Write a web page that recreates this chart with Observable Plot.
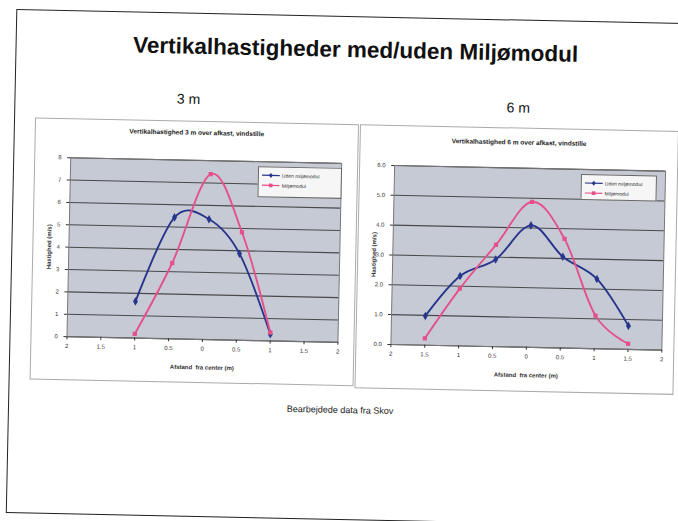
<!DOCTYPE html>
<html><head><meta charset="utf-8">
<script src="https://cdn.jsdelivr.net/npm/d3@7"></script>
<script src="https://cdn.jsdelivr.net/npm/@observablehq/plot@0.6"></script>
<style>
body{margin:0;background:#fff;width:678px;height:521px;overflow:hidden;font-family:"Liberation Sans",Arial,sans-serif;}
#slide{position:absolute;left:0;top:0;width:678px;height:521px;transform:rotate(1.2deg);transform-origin:346px 267px;}
#border{position:absolute;left:11px;top:16px;width:690px;height:502px;border:1.5px solid #222;}
.abs{position:absolute;white-space:nowrap;}
#title{left:351px;top:37px;transform:translateX(-50%);font-size:22.5px;font-weight:bold;color:#111;}
.sub{font-size:14px;color:#111;transform:translateX(-50%);}
#caption{left:343px;top:405px;transform:translateX(-50%);font-size:9px;color:#222;}
.chart{position:absolute;border:1px solid #aaa;background:#fff;}
.ctitle{position:absolute;left:0;right:0;text-align:center;font-size:6.5px;font-weight:bold;color:#222;}
.legend{position:absolute;border:1px solid #666;background:#f6f6f6;font-size:5px;color:#333;box-sizing:border-box;padding:3px 3px;}
.legend div{display:flex;align-items:center;height:10px;}
.legend svg{margin-right:2px;}
g[aria-label="x-axis label"] text, g[aria-label="y-axis label"] text{font-weight:bold;}
</style></head>
<body>
<div id="slide">
  <div id="border"></div>
  <div id="title" class="abs">Vertikalhastigheder med/uden Miljømodul</div>
  <div class="abs sub" style="left:185px;top:94px;">3 m</div>
  <div class="abs sub" style="left:515px;top:96px;">6 m</div>
  <div id="caption" class="abs">Bearbejdede data fra Skov</div>
</div>
<script>
// ---- data ----
const seriesNames = ["Uden miljømodul", "Miljømodul"];
const xTicks = [-2, -1.5, -1, -0.5, 0, 0.5, 1, 1.5, 2];
const xTickLabels = ["2", "1.5", "1", "0.5", "0", "0.5", "1", "1.5", "2"];

// 3 m chart
const y3Ticks = [0, 1, 2, 3, 4, 5, 6, 7, 8];
const y3TickLabels = ["0", "1", "2", "3", "4", "5", "6", "7", "8"];
const x3Uden = [-1, -0.45, 0.06, 0.52, 1.0];
const v3Uden = [1.64, 5.43, 5.38, 3.87, 0.30];
const x3Milj = [-1, -0.47, 0.07, 0.55, 1.0];
const v3Milj = [0.19, 3.39, 7.40, 4.83, 0.37];

// 6 m chart
const y6Ticks = [0, 1, 2, 3, 4, 5, 6];
const y6TickLabels = ["0.0", "1.0", "2.0", "3.0", "4.0", "5.0", "6.0"];
const x6Uden = [-1.5, -1, -0.48, 0.03, 0.51, 1.02, 1.5];
const v6Uden = [0.98, 2.34, 2.92, 4.09, 3.06, 2.34, 0.79];
const x6Milj = [-1.5, -1, -0.48, 0.04, 0.53, 1.01, 1.5];
const v6Milj = [0.23, 1.92, 3.41, 4.88, 3.66, 1.11, 0.19];

const blue = "#27358c";
const pink = "#e5508a";

function rows(xs, vs) { return xs.map((x, i) => ({x, y: vs[i]})); }

function makeChart(cfg) {
  const wrap = document.createElement("div");
  wrap.className = "chart";
  Object.assign(wrap.style, {left: cfg.left + "px", top: cfg.top + "px", width: cfg.width + "px", height: cfg.height + "px"});
  const xMap = new Map(xTicks.map((d, i) => [d, xTickLabels[i]]));
  const yMap = new Map(cfg.yTicks.map((d, i) => [d, cfg.yTickLabels[i]]));
  const a = rows(cfg.xa, cfg.va), b = rows(cfg.xb, cfg.vb);
  const p = Plot.plot({
    width: cfg.width, height: cfg.height,
    marginLeft: cfg.ml, marginRight: cfg.mr, marginTop: cfg.mt, marginBottom: cfg.mb,
    x: {domain: [-2, 2]},
    y: {domain: [0, cfg.yMax]},
    style: {fontFamily: "Liberation Sans, Arial, sans-serif", fontSize: "6px", background: "transparent", color: "#333"},
    marks: [
      Plot.frame({fill: "#c6cad5"}),
      Plot.gridY(cfg.yTicks, {stroke: "#333", strokeOpacity: 0.85, strokeWidth: 1.1}),
      Plot.frame({stroke: "#777"}),
      Plot.axisX(xTicks, {tickFormat: d => xMap.get(d), tickSize: 3, tickPadding: 4, label: "Afstand  fra center (m)", labelAnchor: "center", labelArrow: "none", labelOffset: cfg.xlo}),
      Plot.axisY(cfg.yTicks, {tickFormat: d => yMap.get(d), tickSize: 3, tickPadding: 6, label: "Hastighed (m/s)", labelAnchor: "center", labelArrow: "none", labelOffset: cfg.ylo}),
      Plot.line(a, {x: "x", y: "y", stroke: blue, strokeWidth: 1.9, curve: "cardinal"}),
      Plot.line(b, {x: "x", y: "y", stroke: pink, strokeWidth: 1.9, curve: "cardinal"}),
      Plot.dot(a, {x: "x", y: "y", symbol: "diamond", fill: blue, r: 2.6}),
      Plot.dot(b, {x: "x", y: "y", symbol: "square", fill: pink, r: 2.4})
    ]
  });
  p.style.position = "absolute"; p.style.left = "0"; p.style.top = "0";
  wrap.appendChild(p);
  const t = document.createElement("div");
  t.className = "ctitle"; t.style.top = cfg.titleTop + "px"; t.textContent = cfg.title;
  wrap.appendChild(t);
  const lg = document.createElement("div");
  lg.className = "legend";
  Object.assign(lg.style, {left: cfg.lg[0] + "px", top: cfg.lg[1] + "px", width: cfg.lg[2] + "px", height: cfg.lg[3] + "px"});
  [[seriesNames[0], blue, "d"], [seriesNames[1], pink, "s"]].forEach(([name, col, sym]) => {
    const r = document.createElement("div");
    const mk = sym === "d" ? `<path d="M9,1.5 L11,4 L9,6.5 L7,4 Z" fill="${col}"/>` : `<rect x="7.2" y="2.2" width="3.6" height="3.6" fill="${col}"/>`;
    r.innerHTML = `<svg width="18" height="8"><line x1="0" y1="4" x2="18" y2="4" stroke="${col}" stroke-width="1.2"/>${mk}</svg><span>${name}</span>`;
    lg.appendChild(r);
  });
  wrap.appendChild(lg);
  document.getElementById("slide").appendChild(wrap);
}

makeChart({left: 32, top: 124, width: 322, height: 260, ml: 35, mr: 16, mt: 38, mb: 43, xlo: 30, ylo: 22,
  yMax: 8, yTicks: y3Ticks, yTickLabels: y3TickLabels, xa: x3Uden, va: v3Uden, xb: x3Milj, vb: v3Milj,
  title: "Vertikalhastighed 3 m over afkast, vindstille", titleTop: 7, lg: [223, 43, 84, 31]});
makeChart({left: 357, top: 124, width: 317, height: 262, ml: 34, mr: 12, mt: 39, mb: 44, xlo: 30, ylo: 21,
  yMax: 6, yTicks: y6Ticks, yTickLabels: y6TickLabels, xa: x6Uden, va: v6Uden, xb: x6Milj, vb: v6Milj,
  title: "Vertikalhastighed 6 m over afkast, vindstille", titleTop: 10, lg: [221, 44, 76, 26]});
</script>
</body></html>
